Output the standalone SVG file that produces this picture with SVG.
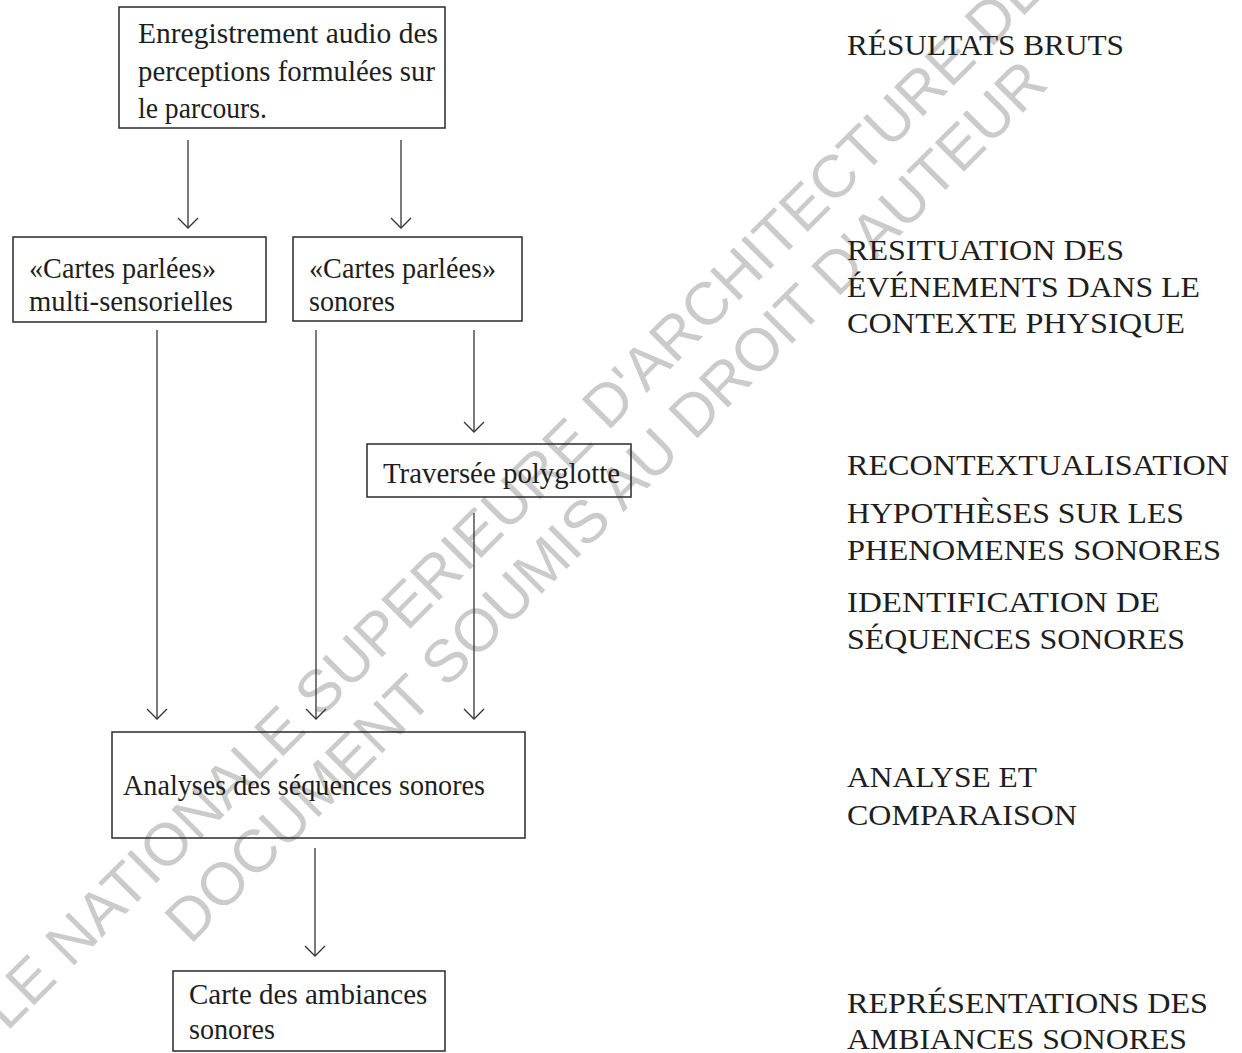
<svg xmlns="http://www.w3.org/2000/svg" width="1242" height="1053" viewBox="0 0 1242 1053">
<defs>
<style>
.wm{font-family:"Liberation Sans",Arial,sans-serif;font-size:60px;fill:#cbcbcb}
.box{fill:none;stroke:#2a2a2a;stroke-width:1.5}
.t{font-family:"Liberation Serif","Times New Roman",serif;font-size:29px;fill:#1e1e1e}
.r{font-family:"Liberation Serif","Times New Roman",serif;font-size:30px;fill:#1e1e1e}
.c{fill:none;stroke:#333;stroke-width:1.3}
</style>
<marker id="arr" markerUnits="userSpaceOnUse" markerWidth="24" markerHeight="24" viewBox="-12 -12 24 24" refX="0" refY="0" orient="auto" overflow="visible">
<path d="M-10,-10 L0,0 L-10,10" fill="none" stroke="#333" stroke-width="1.3"/>
</marker>
</defs>
<rect width="1242" height="1053" fill="#fff"/>
<g id="watermark" transform="rotate(-45)">
<text class="wm" x="-855" y="735">ECOLE NATIONALE SUPERIEURE D'ARCHITECTURE DE</text>
<text class="wm" x="-534" y="803">DOCUMENT SOUMIS AU DROIT D'AUTEUR</text>
</g>
<g id="connectors">
<line class="c" x1="188" y1="140" x2="188" y2="228" marker-end="url(#arr)"/>
<line class="c" x1="401" y1="140" x2="401" y2="228" marker-end="url(#arr)"/>
<line class="c" x1="157" y1="330" x2="157" y2="719" marker-end="url(#arr)"/>
<line class="c" x1="316" y1="330" x2="316" y2="719" marker-end="url(#arr)"/>
<line class="c" x1="474" y1="330" x2="474" y2="432" marker-end="url(#arr)"/>
<line class="c" x1="474" y1="513" x2="474" y2="719" marker-end="url(#arr)"/>
<line class="c" x1="315" y1="848" x2="315" y2="956" marker-end="url(#arr)"/>
</g>
<g id="n_enregistrement">
<rect class="box" x="119" y="7" width="326" height="121"/>
<text class="t" x="138" y="43" textLength="300" lengthAdjust="spacingAndGlyphs">Enregistrement audio des</text>
<text class="t" x="138" y="80.5" textLength="297" lengthAdjust="spacingAndGlyphs">perceptions formulées sur</text>
<text class="t" x="138" y="118" textLength="129" lengthAdjust="spacingAndGlyphs">le parcours.</text>
</g>
<g id="n_cartes_multi">
<rect class="box" x="13" y="237" width="253" height="85"/>
<text class="t" x="29" y="277.5" textLength="187" lengthAdjust="spacingAndGlyphs">«Cartes parlées»</text>
<text class="t" x="29" y="310.5" textLength="204" lengthAdjust="spacingAndGlyphs">multi-sensorielles</text>
</g>
<g id="n_cartes_sonores">
<rect class="box" x="293" y="237" width="229" height="84"/>
<text class="t" x="309" y="277.5" textLength="187" lengthAdjust="spacingAndGlyphs">«Cartes parlées»</text>
<text class="t" x="309" y="310.5" textLength="86" lengthAdjust="spacingAndGlyphs">sonores</text>
</g>
<g id="n_traversee">
<rect class="box" x="367" y="444" width="264" height="53"/>
<text class="t" x="383" y="483" textLength="237" lengthAdjust="spacingAndGlyphs">Traversée polyglotte</text>
</g>
<g id="n_analyses">
<rect class="box" x="112" y="732" width="413" height="106"/>
<text class="t" x="123" y="795" textLength="362" lengthAdjust="spacingAndGlyphs">Analyses des séquences sonores</text>
</g>
<g id="n_carte">
<rect class="box" x="173" y="971" width="272" height="80"/>
<text class="t" x="189" y="1004">Carte des ambiances</text>
<text class="t" x="189" y="1039" textLength="86" lengthAdjust="spacingAndGlyphs">sonores</text>
</g>
<g id="labels">
<text class="r" x="847" y="55" textLength="277" lengthAdjust="spacingAndGlyphs">RÉSULTATS BRUTS</text>
<text class="r" x="847" y="260" textLength="277" lengthAdjust="spacingAndGlyphs">RESITUATION DES</text>
<text class="r" x="847" y="296.5" textLength="353" lengthAdjust="spacingAndGlyphs">ÉVÉNEMENTS DANS LE</text>
<text class="r" x="847" y="333" textLength="338" lengthAdjust="spacingAndGlyphs">CONTEXTE PHYSIQUE</text>
<text class="r" x="847" y="475" textLength="382" lengthAdjust="spacingAndGlyphs">RECONTEXTUALISATION</text>
<text class="r" x="847" y="523" textLength="337" lengthAdjust="spacingAndGlyphs">HYPOTHÈSES SUR LES</text>
<text class="r" x="847" y="560" textLength="374" lengthAdjust="spacingAndGlyphs">PHENOMENES SONORES</text>
<text class="r" x="847" y="611.5" textLength="313" lengthAdjust="spacingAndGlyphs">IDENTIFICATION DE</text>
<text class="r" x="847" y="648.5" textLength="338" lengthAdjust="spacingAndGlyphs">SÉQUENCES SONORES</text>
<text class="r" x="847" y="787" textLength="190" lengthAdjust="spacingAndGlyphs">ANALYSE ET</text>
<text class="r" x="847" y="825" textLength="230" lengthAdjust="spacingAndGlyphs">COMPARAISON</text>
<text class="r" x="847" y="1013" textLength="361" lengthAdjust="spacingAndGlyphs">REPRÉSENTATIONS DES</text>
<text class="r" x="847" y="1049" textLength="340" lengthAdjust="spacingAndGlyphs">AMBIANCES SONORES</text>
</g>
</svg>
